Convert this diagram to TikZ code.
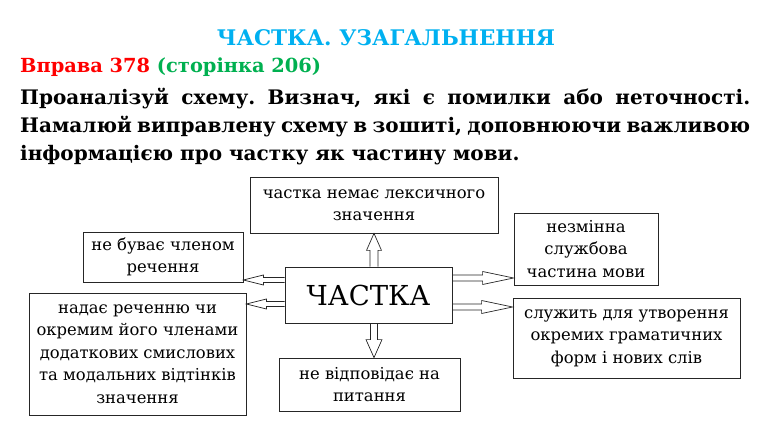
\documentclass[tikz,border=0pt]{standalone}
\usepackage{fontspec}
\setmainfont{DejaVu Serif}
\usetikzlibrary{calc}
\frenchspacing

\definecolor{titleblue}{RGB}{0,176,240}
\definecolor{taskred}{RGB}{255,0,0}
\definecolor{pagegreen}{RGB}{0,176,80}

\tikzset{
  box/.style={draw=black!85, line width=0.8pt, align=center, inner sep=0pt,
    font=\fontsize{16.4}{22.5}\selectfont},
  % hollow block arrow: head length / head half width / shaft half width
  blockarrow/.style args={#1/#2/#3}{draw=black!85, line width=0.7pt,
    to path={let \p1=(\tikztostart), \p2=(\tikztotarget),
      \n1={atan2(\y2-\y1,\x2-\x1)} in
      ($(\tikztostart)+(\n1+90:#3)$)
      -- ($(\tikztotarget)+(\n1+180:#1)+(\n1+90:#3)$)
      -- ($(\tikztotarget)+(\n1+180:#1)+(\n1+90:#2)$)
      -- (\tikztotarget)
      -- ($(\tikztotarget)+(\n1+180:#1)+(\n1-90:#2)$)
      -- ($(\tikztotarget)+(\n1+180:#1)+(\n1-90:#3)$)
      -- ($(\tikztostart)+(\n1-90:#3)$)}},
}

\begin{document}
\begin{tikzpicture}[x=1pt, y=-1pt]
\useasboundingbox (0,0) rectangle (770,435);

% heading
\node[font=\fontsize{21.5}{28}\selectfont\bfseries, text=titleblue] (title) at (386,38) {ЧАСТКА. УЗАГАЛЬНЕННЯ};
\node[anchor=west, inner sep=0pt, font=\fontsize{19.4}{28}\selectfont\bfseries] (task) at (20,67)
  {\textcolor{taskred}{Вправа 378} \textcolor{pagegreen}{(сторінка 206)}};
\node[anchor=north west, inner sep=0pt, text width=730pt, align=justify,
  font=\fontsize{20}{28}\selectfont\bfseries] (prompt) at (20,88)
  {Проаналізуй схему. Визнач, які є помилки або неточності. Намалюй виправлену схему в зошиті, доповнюючи важливою інформацією про частку як частину мови.};

% scheme
\node[box, minimum width=167pt, minimum height=56pt, font=\fontsize{27.5}{30}\selectfont] (center) at (368.5,295) {ЧАСТКА};
\node[box, minimum width=248pt, minimum height=56pt] (top) at (374,205) {частка немає лексичного\\значення};
\node[box, minimum width=160pt, minimum height=50pt] (leftA) at (163,257) {не буває членом\\речення};
\node[box, minimum width=217pt, minimum height=122pt] (leftB) at (137.5,354)
  {надає реченню чи\\окремим його членами\\додаткових смислових\\та модальних відтінків\\значення};
\node[box, minimum width=181pt, minimum height=53pt] (bottom) at (369.5,384.5) {не відповідає на\\питання};
\node[box, minimum width=144pt, minimum height=72pt] (rightA) at (586,249) {незмінна\\службова\\частина мови};
\node[box, minimum width=227pt, minimum height=80pt] (rightB) at (626.5,338)
  {служить для утворення\\окремих граматичних\\форм і нових слів};

\draw[blockarrow=17pt/7.5pt/4pt] (top.south |- center.north) to (top.south);
\draw[blockarrow=18pt/8pt/3.5pt] (top.south |- center.south) to (top.south |- bottom.north);
\draw[blockarrow=20pt/5pt/2.5pt] ([yshift=15pt]center.west) to ([yshift=15pt]center.west -| leftA.east);
\draw[blockarrow=20pt/5pt/2.5pt] ([yshift=-9pt]center.west) to ([yshift=-9pt]center.west -| leftB.east);
\draw[blockarrow=31pt/6.5pt/3pt] ([yshift=17pt]center.east) to ([yshift=17pt]center.east -| rightA.west);
\draw[blockarrow=31pt/6.5pt/3pt] ([yshift=-12pt]center.east) to ([yshift=-12pt]center.east -| rightB.west);

\end{tikzpicture}
\end{document}
